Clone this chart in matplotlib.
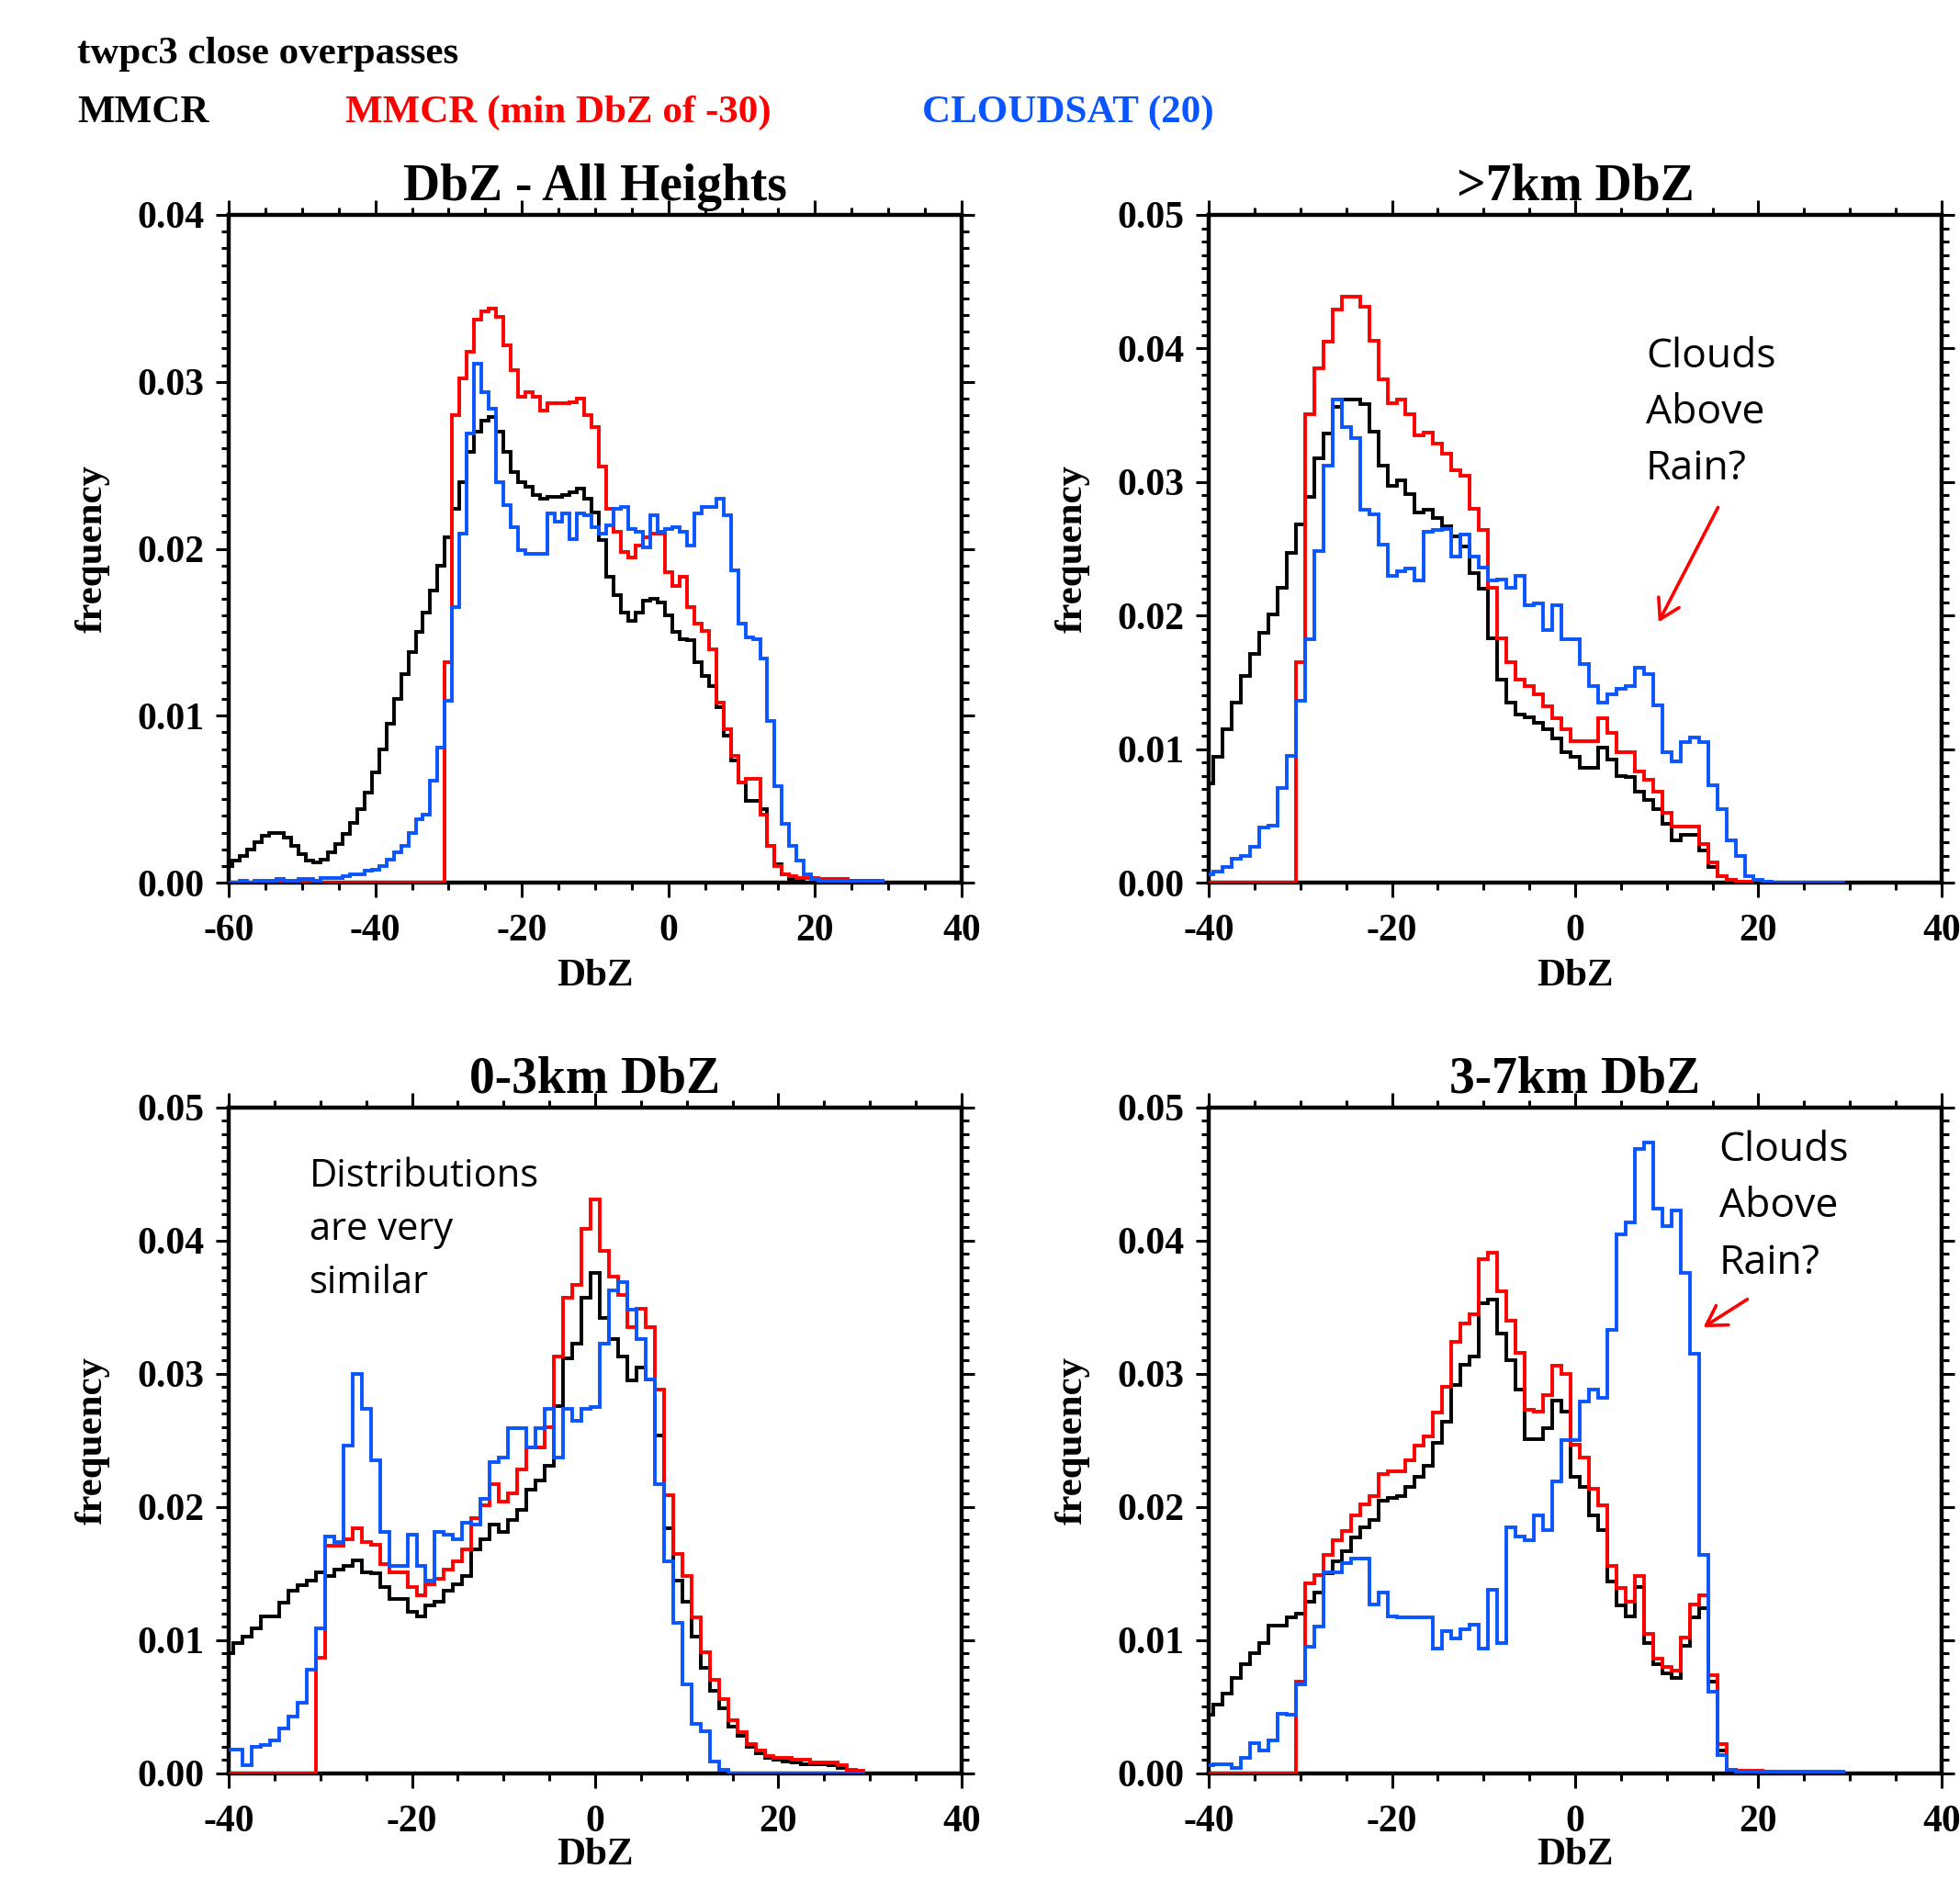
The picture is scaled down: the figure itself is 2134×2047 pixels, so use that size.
import numpy as np
import matplotlib.pyplot as plt
from matplotlib.ticker import MultipleLocator, FormatStrFormatter

plt.rcParams['font.family'] = 'Liberation Serif'
plt.rcParams['font.weight'] = 'bold'
plt.rcParams['axes.labelweight'] = 'bold'
plt.rcParams['axes.unicode_minus'] = False

MMCR_COLOR = 'black'
MIN30_COLOR = '#ff0000'
CLOUDSAT_COLOR = '#0a55ff'

# reflectivity histograms, 1 dBZ bins centred on integers
# ---- all heights, bins -60 .. 29
all_start = -60
all_mmcr = [0.0010, 0.0013, 0.0016, 0.0020, 0.0024, 0.0028, 0.0030, 0.0030, 0.0027, 0.0022,
            0.0017, 0.0013, 0.0012, 0.0014, 0.0018, 0.0023, 0.0029, 0.0036, 0.0044, 0.0054,
            0.0066, 0.0080, 0.0095, 0.0110, 0.0125, 0.0138, 0.0150, 0.0162, 0.0175, 0.0190,
            0.0207, 0.0224, 0.0240, 0.0258, 0.0270, 0.0277, 0.0279, 0.0270, 0.0258, 0.0246,
            0.0240, 0.0237, 0.0232, 0.0230, 0.0231, 0.0231, 0.0232, 0.0234, 0.0236, 0.0230,
            0.0222, 0.0205, 0.0183, 0.0172, 0.0162, 0.0157, 0.0162, 0.0169, 0.0170, 0.0168,
            0.0160, 0.0150, 0.0146, 0.0145, 0.0132, 0.0124, 0.0118, 0.0105, 0.0088, 0.0073,
            0.0060, 0.0049, 0.0049, 0.0044, 0.0022, 0.0011, 0.0005, 0.0002, 0.0001, 0.0000]
all_min30 = [0.0] * 30 + [
            0.0132, 0.0280, 0.0302, 0.0318, 0.0337, 0.0342, 0.0344, 0.0339, 0.0322, 0.0307,
            0.0291, 0.0294, 0.0291, 0.0283, 0.0287, 0.0287, 0.0287, 0.0288, 0.0290, 0.0280,
            0.0273, 0.0249, 0.0224, 0.0210, 0.0198, 0.0195, 0.0202, 0.0207, 0.0209, 0.0209,
            0.0186, 0.0178, 0.0183, 0.0165, 0.0155, 0.0151, 0.0140, 0.0108, 0.0092, 0.0076,
            0.0060, 0.0062, 0.0062, 0.0041, 0.0022, 0.0010, 0.0005, 0.0004, 0.0003, 0.0003,
            0.0003, 0.0002, 0.0002, 0.0002, 0.0002, 0.0001, 0.0001, 0.0001, 0.0001, 0.0000]
all_cloudsat = [0.0000, 0.0000, 0.0001, 0.0000, 0.0001, 0.0001, 0.0001, 0.0002, 0.0001, 0.0001,
                0.0002, 0.0002, 0.0001, 0.0003, 0.0003, 0.0003, 0.0004, 0.0005, 0.0005, 0.0007,
                0.0008, 0.0010, 0.0014, 0.0018, 0.0022, 0.0030, 0.0038, 0.0041, 0.0061, 0.0081,
                0.0109, 0.0165, 0.0209, 0.0269, 0.0311, 0.0294, 0.0284, 0.0240, 0.0226, 0.0213,
                0.0199, 0.0197, 0.0197, 0.0197, 0.0221, 0.0216, 0.0221, 0.0206, 0.0221, 0.0220,
                0.0213, 0.0209, 0.0214, 0.0224, 0.0225, 0.0212, 0.0210, 0.0201, 0.0220, 0.0210,
                0.0212, 0.0213, 0.0210, 0.0202, 0.0221, 0.0225, 0.0225, 0.0230, 0.0220, 0.0187,
                0.0155, 0.0147, 0.0146, 0.0134, 0.0097, 0.0058, 0.0035, 0.0022, 0.0013, 0.0005,
                0.0002, 0.0001, 0.0001, 0.0001, 0.0001, 0.0001, 0.0001, 0.0001, 0.0001, 0.0001]

# ---- above 7 km, bins -40 .. 29
high_start = -40
high_mmcr = [0.0074, 0.0094, 0.0115, 0.0135, 0.0155, 0.0171, 0.0187, 0.0201, 0.0221, 0.0247,
             0.0268, 0.0289, 0.0318, 0.0336, 0.0356, 0.0362, 0.0362, 0.0358, 0.0338, 0.0312,
             0.0297, 0.0301, 0.0291, 0.0277, 0.0279, 0.0273, 0.0267, 0.0259, 0.0252, 0.0232,
             0.0220, 0.0183, 0.0152, 0.0135, 0.0126, 0.0124, 0.0120, 0.0115, 0.0108, 0.0098,
             0.0094, 0.0086, 0.0086, 0.0101, 0.0092, 0.0080, 0.0079, 0.0068, 0.0062, 0.0055,
             0.0044, 0.0032, 0.0036, 0.0036, 0.0024, 0.0012, 0.0005, 0.0002, 0.0000, 0.0000]
high_min30 = [0.0] * 10 + [
             0.0165, 0.0351, 0.0385, 0.0405, 0.0429, 0.0439, 0.0439, 0.0431, 0.0406, 0.0377,
             0.0359, 0.0362, 0.0351, 0.0335, 0.0337, 0.0329, 0.0321, 0.0309, 0.0305, 0.0280,
             0.0264, 0.0221, 0.0183, 0.0165, 0.0152, 0.0147, 0.0141, 0.0132, 0.0123, 0.0115,
             0.0106, 0.0106, 0.0106, 0.0123, 0.0112, 0.0098, 0.0098, 0.0083, 0.0077, 0.0068,
             0.0052, 0.0042, 0.0042, 0.0042, 0.0029, 0.0015, 0.0005, 0.0002, 0.0001, 0.0001]
high_cloudsat = [0.0006, 0.0008, 0.0012, 0.0018, 0.0020, 0.0027, 0.0041, 0.0043, 0.0071, 0.0095,
                 0.0136, 0.0182, 0.0248, 0.0312, 0.0362, 0.0341, 0.0333, 0.0279, 0.0276, 0.0253,
                 0.0230, 0.0233, 0.0235, 0.0226, 0.0263, 0.0264, 0.0265, 0.0244, 0.0261, 0.0244,
                 0.0236, 0.0226, 0.0227, 0.0221, 0.0230, 0.0208, 0.0209, 0.0189, 0.0208, 0.0182,
                 0.0182, 0.0164, 0.0147, 0.0135, 0.0141, 0.0145, 0.0147, 0.0161, 0.0156, 0.0133,
                 0.0098, 0.0091, 0.0105, 0.0109, 0.0105, 0.0073, 0.0055, 0.0032, 0.0020, 0.0005,
                 0.0002, 0.0001, 0.0000, 0.0000, 0.0000, 0.0000, 0.0000, 0.0000, 0.0000, 0.0000]

# ---- 0-3 km, bins -40 .. 29
low_start = -40
low_mmcr = [0.0090, 0.0098, 0.0103, 0.0109, 0.0118, 0.0118, 0.0128, 0.0137, 0.0141, 0.0145,
            0.0151, 0.0148, 0.0153, 0.0156, 0.0160, 0.0151, 0.0150, 0.0140, 0.0131, 0.0131,
            0.0121, 0.0118, 0.0126, 0.0129, 0.0137, 0.0142, 0.0148, 0.0168, 0.0176, 0.0187,
            0.0181, 0.0190, 0.0198, 0.0213, 0.0220, 0.0231, 0.0276, 0.0312, 0.0323, 0.0357,
            0.0376, 0.0342, 0.0326, 0.0313, 0.0295, 0.0305, 0.0296, 0.0254, 0.0184, 0.0145,
            0.0129, 0.0103, 0.0079, 0.0062, 0.0049, 0.0035, 0.0028, 0.0020, 0.0015, 0.0012,
            0.0010, 0.0009, 0.0008, 0.0007, 0.0007, 0.0007, 0.0006, 0.0004, 0.0002, 0.0001]
low_min30 = [0.0] * 10 + [
            0.0087, 0.0171, 0.0171, 0.0176, 0.0184, 0.0174, 0.0172, 0.0157, 0.0151, 0.0151,
            0.0140, 0.0134, 0.0142, 0.0146, 0.0153, 0.0159, 0.0168, 0.0192, 0.0201, 0.0217,
            0.0204, 0.0210, 0.0228, 0.0245, 0.0245, 0.0260, 0.0313, 0.0357, 0.0367, 0.0409,
            0.0431, 0.0392, 0.0373, 0.0359, 0.0335, 0.0349, 0.0335, 0.0288, 0.0209, 0.0165,
            0.0148, 0.0117, 0.0091, 0.0070, 0.0056, 0.0040, 0.0031, 0.0022, 0.0017, 0.0013,
            0.0012, 0.0012, 0.0010, 0.0010, 0.0008, 0.0008, 0.0008, 0.0006, 0.0003, 0.0002]
low_cloudsat = [0.0018, 0.0018, 0.0006, 0.0020, 0.0021, 0.0025, 0.0034, 0.0043, 0.0053, 0.0078,
                0.0109, 0.0178, 0.0174, 0.0246, 0.0300, 0.0274, 0.0235, 0.0181, 0.0156, 0.0156,
                0.0179, 0.0156, 0.0145, 0.0181, 0.0179, 0.0176, 0.0188, 0.0187, 0.0206, 0.0234,
                0.0237, 0.0259, 0.0259, 0.0245, 0.0259, 0.0274, 0.0237, 0.0274, 0.0265, 0.0274,
                0.0275, 0.0323, 0.0363, 0.0369, 0.0348, 0.0326, 0.0296, 0.0217, 0.0159, 0.0113,
                0.0067, 0.0037, 0.0032, 0.0009, 0.0003, 0.0000, 0.0000, 0.0000, 0.0000, 0.0000,
                0.0000, 0.0000, 0.0000, 0.0000, 0.0000, 0.0000, 0.0000, 0.0000, 0.0000, 0.0000]

# ---- 3-7 km, bins -40 .. 29
mid_start = -40
mid_mmcr = [0.0044, 0.0052, 0.0060, 0.0072, 0.0082, 0.0090, 0.0098, 0.0111, 0.0111, 0.0117,
            0.0120, 0.0129, 0.0136, 0.0150, 0.0159, 0.0167, 0.0177, 0.0185, 0.0190, 0.0205,
            0.0207, 0.0208, 0.0215, 0.0223, 0.0231, 0.0248, 0.0264, 0.0292, 0.0307, 0.0313,
            0.0353, 0.0356, 0.0330, 0.0310, 0.0288, 0.0251, 0.0251, 0.0259, 0.0280, 0.0272,
            0.0223, 0.0215, 0.0194, 0.0183, 0.0144, 0.0126, 0.0118, 0.0140, 0.0098, 0.0082,
            0.0075, 0.0072, 0.0096, 0.0117, 0.0124, 0.0069, 0.0017, 0.0003, 0.0001, 0.0001]
mid_min30 = [0.0] * 10 + [
            0.0069, 0.0143, 0.0149, 0.0164, 0.0175, 0.0182, 0.0194, 0.0202, 0.0208, 0.0225,
            0.0227, 0.0227, 0.0235, 0.0246, 0.0253, 0.0271, 0.0290, 0.0324, 0.0338, 0.0345,
            0.0386, 0.0391, 0.0362, 0.0340, 0.0316, 0.0273, 0.0272, 0.0284, 0.0306, 0.0300,
            0.0247, 0.0237, 0.0214, 0.0201, 0.0156, 0.0139, 0.0129, 0.0148, 0.0105, 0.0086,
            0.0080, 0.0077, 0.0102, 0.0127, 0.0134, 0.0074, 0.0022, 0.0003, 0.0002, 0.0002,
            0.0002, 0.0001, 0.0001]
mid_cloudsat = [0.0006, 0.0007, 0.0007, 0.0004, 0.0012, 0.0023, 0.0017, 0.0025, 0.0045, 0.0044,
                0.0067, 0.0095, 0.0110, 0.0151, 0.0151, 0.0158, 0.0161, 0.0161, 0.0127, 0.0136,
                0.0118, 0.0117, 0.0117, 0.0117, 0.0117, 0.0094, 0.0107, 0.0101, 0.0108, 0.0112,
                0.0094, 0.0138, 0.0098, 0.0185, 0.0178, 0.0175, 0.0194, 0.0183, 0.0219, 0.0250,
                0.0250, 0.0279, 0.0288, 0.0282, 0.0333, 0.0405, 0.0414, 0.0469, 0.0474, 0.0424,
                0.0411, 0.0423, 0.0376, 0.0315, 0.0164, 0.0061, 0.0014, 0.0003, 0.0001, 0.0001,
                0.0001, 0.0001, 0.0001, 0.0001, 0.0001, 0.0001, 0.0001, 0.0001, 0.0001, 0.0001]


def draw_hist(ax, start, values, color):
    centers = start + np.arange(len(values))
    edges = np.append(centers - 0.5, centers[-1] + 0.5)
    ax.stairs(values, edges, color=color, lw=2.8, baseline=None, zorder=3)


def setup_axes(ax, title, xlim, ylim, xlabel_y):
    ax.set_xlim(*xlim)
    ax.set_ylim(*ylim)
    ax.xaxis.set_major_locator(MultipleLocator(20))
    ax.xaxis.set_minor_locator(MultipleLocator(5))
    ax.yaxis.set_major_locator(MultipleLocator(0.01))
    ax.yaxis.set_minor_locator(MultipleLocator(0.001))
    ax.yaxis.set_major_formatter(FormatStrFormatter('%.2f'))
    ax.tick_params(which='both', direction='out', top=True, right=True,
                   width=2.2, labelsize=30)
    ax.tick_params(axis='x', which='major', length=11.5, pad=13)
    ax.tick_params(axis='x', which='minor', length=6)
    ax.tick_params(axis='y', which='major', length=10, pad=9)
    ax.tick_params(axis='y', which='minor', length=5.5)
    for spine in ax.spines.values():
        spine.set_linewidth(3.2)
    ax.set_xlabel('DbZ', fontsize=31)
    ax.set_ylabel('frequency', fontsize=31)
    ax.xaxis.set_label_coords(0.5, xlabel_y)
    ax.yaxis.set_label_coords(-0.162, 0.5)
    ax.text(0.5, 1.022, title, transform=ax.transAxes, ha='center',
            va='baseline', fontsize=40)


fig = plt.figure(figsize=(21.34, 20.47), dpi=100)

panels = [
    ([0.1167, 0.5305, 0.3739, 0.3552], 'DbZ - All Heights', (-60, 40), (0, 0.04), -0.114,
     all_start, all_mmcr, all_min30, all_cloudsat),
    ([0.6167, 0.5305, 0.3739, 0.3552], '>7km DbZ', (-40, 40), (0, 0.05), -0.114,
     high_start, high_mmcr, high_min30, high_cloudsat),
    ([0.1167, 0.0567, 0.3739, 0.3542], '0-3km DbZ', (-40, 40), (0, 0.05), -0.097,
     low_start, low_mmcr, low_min30, low_cloudsat),
    ([0.6167, 0.0567, 0.3739, 0.3542], '3-7km DbZ', (-40, 40), (0, 0.05), -0.097,
     mid_start, mid_mmcr, mid_min30, mid_cloudsat),
]

axes = []
for rect, title, xlim, ylim, xlabel_y, start, mmcr, min30, cloudsat in panels:
    ax = fig.add_axes(rect)
    draw_hist(ax, start, mmcr, MMCR_COLOR)
    draw_hist(ax, start, min30, MIN30_COLOR)
    draw_hist(ax, start, cloudsat, CLOUDSAT_COLOR)
    setup_axes(ax, title, xlim, ylim, xlabel_y)
    axes.append(ax)

# header lines
fig.text(0.0394, 1 - 69 / 2047, 'twpc3 close overpasses', fontsize=31, va='baseline')
fig.text(0.0394, 1 - 133 / 2047, 'MMCR', fontsize=31, va='baseline', color=MMCR_COLOR)
fig.text(0.1762, 1 - 133 / 2047, 'MMCR (min DbZ of -30)', fontsize=31, va='baseline',
         color=MIN30_COLOR)
fig.text(0.4705, 1 - 133 / 2047, 'CLOUDSAT (20)', fontsize=31, va='baseline',
         color=CLOUDSAT_COLOR)

# hand-written notes
note_font = dict(family='Open Sans', weight='normal', linespacing=1.5, va='top', ha='left')
arrow = dict(arrowstyle='->,head_length=0.5,head_width=0.3', color='red', lw=2.6,
             mutation_scale=30, shrinkA=0, shrinkB=0)

axes[1].text(7.7, 0.0409, 'Clouds\nAbove\nRain?', fontsize=32, **note_font)
axes[1].annotate('', xy=(9.1, 0.0195), xytext=(15.6, 0.0281), arrowprops=arrow)

axes[2].text(-31.2, 0.0463, 'Distributions\nare very\nsimilar', fontsize=30, **note_font)

axes[3].text(15.7, 0.0483, 'Clouds\nAbove\nRain?', fontsize=32, **note_font)
axes[3].annotate('', xy=(14.0, 0.0335), xytext=(18.8, 0.0356), arrowprops=arrow)

fig.savefig('out.png', dpi=100)
